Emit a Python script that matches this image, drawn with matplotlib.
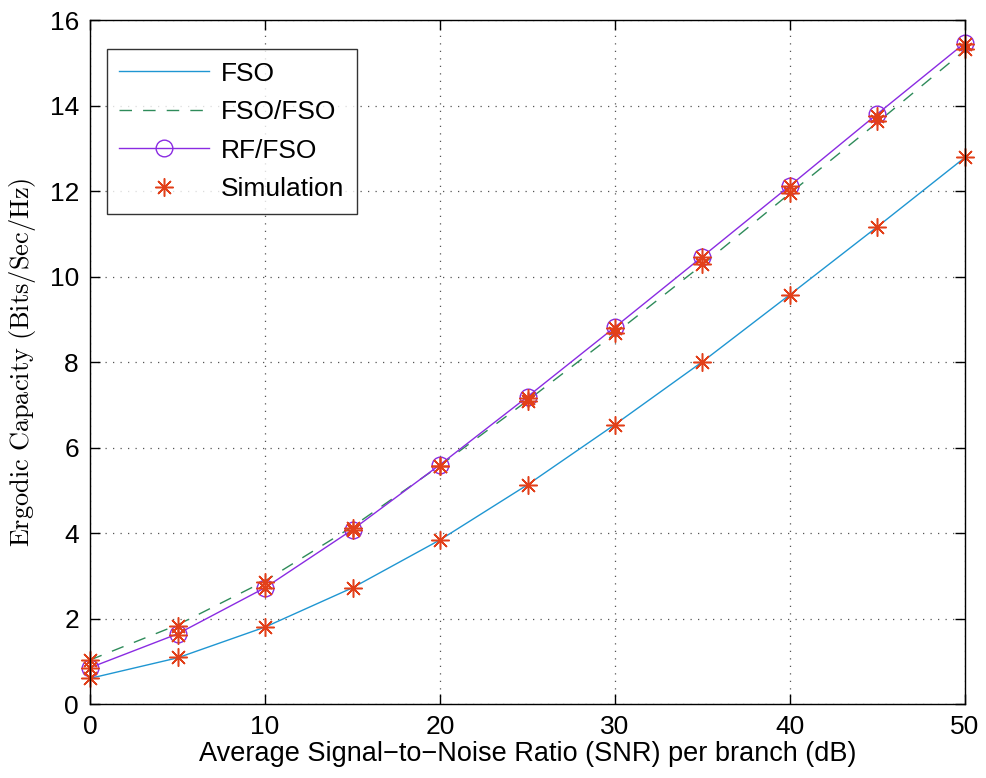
import matplotlib.pyplot as plt
import numpy as np

plt.rcParams['font.family'] = ['Liberation Sans', 'DejaVu Sans']
plt.rcParams['mathtext.fontset'] = 'cm'

snr_db = [0, 5, 10, 15, 20, 25, 30, 35, 40, 45, 50]

# analytical ergodic capacity (bits/s/Hz)
cap_fso = [0.60, 1.08, 1.80, 2.72, 3.84, 5.13, 6.54, 8.01, 9.58, 11.17, 12.79]
cap_fso_fso = [1.03, 1.85, 2.88, 4.15, 5.58, 7.10, 8.67, 10.28, 11.95, 13.61, 15.30]
cap_rf_fso = [0.85, 1.64, 2.72, 4.08, 5.60, 7.19, 8.82, 10.47, 12.13, 13.81, 15.47]

# Monte-Carlo points
sim_fso = [0.60, 1.09, 1.81, 2.72, 3.84, 5.13, 6.53, 8.01, 9.58, 11.16, 12.79]
sim_fso_fso = [1.02, 1.82, 2.86, 4.12, 5.56, 7.10, 8.68, 10.30, 11.96, 13.65, 15.33]
sim_rf_fso = [0.85, 1.62, 2.72, 4.08, 5.58, 7.17, 8.80, 10.45, 12.12, 13.75, 15.45]

blue = '#1f96d2'
green = '#2e8b5a'
purple = '#8a2be2'
red = '#e2401a'

fig = plt.figure(figsize=(9.87, 7.78), dpi=100)
ax = fig.add_axes([0.0912, 0.0951, 0.8865, 0.8789])

ax.plot(snr_db, cap_fso, color=blue, lw=1.0, label='FSO')
ax.plot(snr_db, cap_fso_fso, color=green, lw=1.0, ls=(0, (9, 8)), label='FSO/FSO')
ax.plot(snr_db, cap_rf_fso, color=purple, lw=1.0, marker='o', ms=12,
        mfc='none', mec=purple, mew=1.0, label='RF/FSO', clip_on=False)

star = (8, 2, 0)
sim_style = dict(ls='none', marker=star, ms=13, mec=red, mew=1.1, clip_on=False)
ax.plot(snr_db, sim_fso, label='Simulation', **sim_style)
ax.plot(snr_db, sim_fso_fso, **sim_style)
ax.plot(snr_db, sim_rf_fso, **sim_style)

ax.set_xlim(0, 50)
ax.set_ylim(0, 16)
ax.set_xticks(np.arange(0, 51, 10))
ax.set_yticks(np.arange(0, 17, 2))

ax.grid(True, color='#555555', ls=(0, (1, 5)), lw=0.9)
ax.tick_params(direction='in', top=True, right=True, labelsize=19, length=7, width=1,
               pad=8)
for s in ax.spines.values():
    s.set_linewidth(1.0)

ax.set_xlabel('Average Signal\u2212to\u2212Noise Ratio (SNR) per branch (dB)',
              fontsize=19.5, labelpad=1)
ax.set_ylabel(r'$\mathrm{Ergodic\ Capacity\ (Bits/Sec/Hz)}$', fontsize=19, labelpad=8)

leg = ax.legend(loc='upper left', bbox_to_anchor=(0.019, 0.958), fontsize=19,
                frameon=True, fancybox=False, edgecolor='black', handlelength=3.4,
                borderpad=0.48, labelspacing=0.55, handletextpad=0.45,
                borderaxespad=0)
leg.get_frame().set_linewidth(1.0)

fig.savefig('out.png', dpi=100)
